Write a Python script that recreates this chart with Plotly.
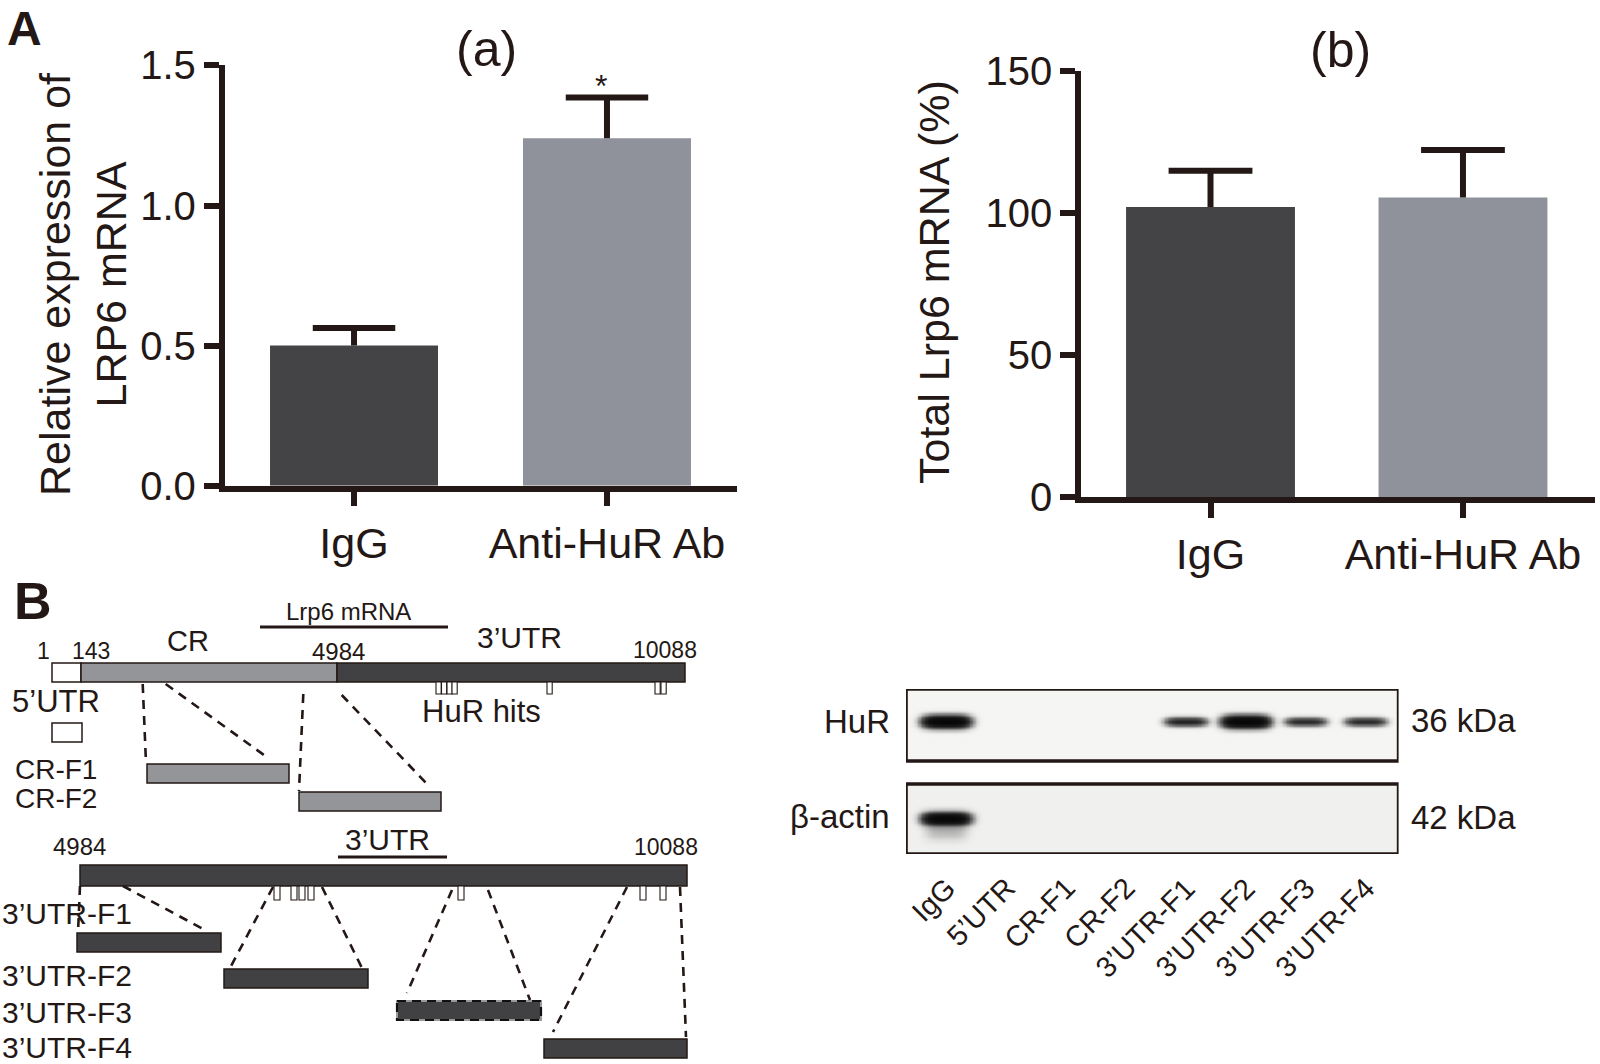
import numpy as np
import plotly.graph_objects as go

W, H = 1600, 1064
INK = '#231815'
FONT = 'Liberation Sans, Arial, Helvetica, sans-serif'

# ---------------- Panel A data ----------------
groups = ['IgG', 'Anti-HuR Ab']
rel_expr = [0.50, 1.24]          # (a) relative expression of LRP6 mRNA
rel_expr_sd = [0.063, 0.145]
total_lrp6 = [102.0, 105.4]      # (b) total Lrp6 mRNA (%)
total_lrp6_sd = [12.8, 16.7]
bar_colors = ['#444446', '#8f929a']
rel_ticks = [0.0, 0.5, 1.0, 1.5]
total_ticks = [0, 50, 100, 150]

# ---------------- Panel B schematic (diagram units) ----------------
site_labels = ['1', '143', '4984', '10088']
full_seg_start = [52, 81, 337]
full_seg_end = [81, 337, 685]
full_seg_fill = ['#ffffff', '#939598', '#414042']
full_hits_start = [436, 441.5, 447, 452, 547, 655, 661]
utr_hits_start = [274, 291, 299, 308, 458, 640, 660]
cr_frag_names = ['5’UTR', 'CR-F1', 'CR-F2']
cr_frag_start = [52, 147, 299]
cr_frag_end = [82, 289, 441]
utr_frag_names = ['3’UTR-F1', '3’UTR-F2', '3’UTR-F3', '3’UTR-F4']
utr_frag_start = [77, 224, 397, 544]
utr_frag_end = [221, 368, 541, 687]

# ---------------- Western blot ----------------
lane_names = ['IgG', '5’UTR', 'CR-F1', 'CR-F2', '3’UTR-F1', '3’UTR-F2', '3’UTR-F3', '3’UTR-F4']
lanes = [1, 2, 3, 4, 5, 6, 7, 8]
hur_signal = [1.0, 0.0, 0.0, 0.0, 0.5, 1.0, 0.45, 0.45]
actin_signal = [1.0, 0.0, 0.0, 0.0, 0.0, 0.0, 0.0, 0.0]


def pxx(p):
    return p / W


def pxy(p):
    return 1 - p / H


fig = go.Figure()


def bar_panel(xa, ya, vals, sds, width, cap_half):
    xs_ = list(range(len(vals)))
    fig.add_trace(go.Bar(x=xs_, y=vals, width=width,
                         marker=dict(color=bar_colors, line=dict(width=0)),
                         xaxis=xa, yaxis=ya, hoverinfo='skip'))
    # SEM whiskers (upper only), built from the data arrays
    ex, ey = [], []
    for xi, v, s in zip(xs_, vals, sds):
        ex += [xi, xi, None, xi - cap_half, xi + cap_half, None]
        ey += [v, v + s, None, v + s, v + s, None]
    fig.add_trace(go.Scatter(x=ex, y=ey, mode='lines', line=dict(color=INK, width=6),
                             xaxis=xa, yaxis=ya, hoverinfo='skip'))


bar_panel('x', 'y', rel_expr, rel_expr_sd, 0.664, 0.163)
bar_panel('x2', 'y2', total_lrp6, total_lrp6_sd, 0.669, 0.166)

# ---- blot heatmaps
LANE_PX = 59.9
xs = np.linspace(0.332, 8.556, 360)
X = xs[None, :]


def band_field(ys, signal, yc, extra=None):
    Y = ys[:, None]
    zsum = np.zeros((len(ys), len(xs)))
    for ln, s in zip(lanes, signal):
        if s <= 0:
            continue
        hw = (17 + 6 * s) / LANE_PX
        sy = 2.4 + 3.2 * s
        zsum += s * np.exp(-(np.abs(X - ln) / hw) ** 4) * np.exp(-((Y - yc) / sy) ** 2)
        if extra is not None:
            zsum += s * extra[0] * np.exp(-(np.abs(X - ln) / (hw * 0.9)) ** 4) * \
                np.exp(-((Y - extra[1]) / extra[2]) ** 2)
    return 1 - np.exp(-4.0 * zsum)


ys_hur = np.linspace(689, 761, 60)
ys_act = np.linspace(784, 854, 60)
blot_scale = [[0, '#f5f5f3'], [0.5, '#7a7a7a'], [1, '#030303']]
fig.add_trace(go.Heatmap(x=xs, y=ys_hur, z=band_field(ys_hur, hur_signal, 721.5),
                         colorscale=blot_scale, zmin=0, zmax=1, showscale=False,
                         zsmooth='best', xaxis='x4', yaxis='y4', hoverinfo='skip'))
fig.add_trace(go.Heatmap(x=xs, y=ys_act, z=band_field(ys_act, actin_signal, 818.5, (0.07, 831, 8)),
                         colorscale=[[0, '#f0f0ef'], [0.5, '#7a7a7a'], [1, '#030303']],
                         zmin=0, zmax=1, showscale=False,
                         zsmooth='best', xaxis='x4', yaxis='y4', hoverinfo='skip'))

shapes = []
annots = []


def rect(x0, x1, y0, y1, fill, lw=1.5, color=INK, dash=None):
    ln = dict(color=color, width=lw)
    if dash:
        ln['dash'] = dash
    shapes.append(dict(type='rect', xref='x3', yref='y3', x0=x0, x1=x1, y0=y0, y1=y1,
                       fillcolor=fill, line=ln, layer='above'))


def seg(x0, y0, x1, y1, lw=2.6, dash='9px,7px'):
    ln = dict(color=INK, width=lw)
    if dash:
        ln['dash'] = dash
    shapes.append(dict(type='line', xref='x3', yref='y3', x0=x0, y0=y0, x1=x1, y1=y1,
                       line=ln, layer='above'))


def txt(t, x, y, size, xanchor='center', ref=('x3', 'y3'), bold=False, angle=0, yanchor='middle'):
    s = f'<b>{t}</b>' if bold else t
    annots.append(dict(text=s, x=x, y=y, xref=ref[0], yref=ref[1], showarrow=False,
                       xanchor=xanchor, yanchor=yanchor, textangle=angle,
                       font=dict(family=FONT, size=size, color=INK)))


# --- upper full-length map
for s0, s1, f in zip(full_seg_start, full_seg_end, full_seg_fill):
    rect(s0, s1, 663, 682, f)
for h in full_hits_start:
    rect(h, h + 5.2, 682, 694, '#ffffff', lw=1.1)
seg(260, 627, 448, 627, lw=3.2, dash=None)
txt('Lrp6 mRNA', 348, 611, 24)
txt(site_labels[0], 43, 651, 23)
txt(site_labels[1], 91, 651, 23)
txt('CR', 187.5, 641, 29)
txt(site_labels[2], 338, 651, 24)
txt('3’UTR', 519, 637, 30)
txt(site_labels[3], 665, 650, 23)
txt('HuR hits', 481, 711, 31)
# CR fragments
for name, s0, s1, y0 in zip(cr_frag_names, cr_frag_start, cr_frag_end, [723, 764, 792]):
    rect(s0, s1, y0, y0 + 19, '#ffffff' if name == '5’UTR' else '#939598')
txt('5’UTR', 56, 701, 31)
txt('CR-F1', 56, 769, 28)
txt('CR-F2', 56, 798, 28)
seg(142.7, 684, 146, 763)
seg(165.7, 684, 266.7, 757)
seg(303.3, 694, 299, 791)
seg(341.7, 695, 430, 787)

# --- lower 3'UTR map
rect(80, 687, 865, 886, '#414042')
for h in utr_hits_start:
    rect(h, h + 6, 886, 900, '#ffffff', lw=1.1)
txt(site_labels[2], 79.5, 846, 24)
txt('3’UTR', 387.5, 839, 30)
seg(338, 857, 447, 857, lw=3.2, dash=None)
txt(site_labels[3], 666, 847, 23)
for name, s0, s1, y0, ly in zip(utr_frag_names, utr_frag_start, utr_frag_end,
                                 [933, 969, 1001, 1039], [913, 975, 1012, 1047]):
    if name.endswith('F3'):
        rect(s0, s1, y0, y0 + 19, '#414042', lw=2.0, color='#9a9a9a')
        rect(s0, s1, y0, y0 + 19, 'rgba(0,0,0,0)', lw=2.2, color='#111111', dash='9px,6px')
    else:
        rect(s0, s1, y0, y0 + 19, '#414042')
    txt(name, 0, ly, 30, xanchor='left')
seg(80, 886, 78, 933)
seg(123, 886, 205, 930)
seg(273, 887, 230, 968)
seg(322, 887, 362, 968)
seg(452, 890, 407, 993)
seg(488, 890, 530, 1000)
seg(627, 887, 553, 1032)
seg(680, 887, 686, 1037)

# --- blot boxes and labels
for y0, y1 in [(689, 761), (784, 854)]:
    shapes.append(dict(type='rect', xref='x4', yref='y4', x0=0.332, x1=8.556, y0=y0, y1=y1,
                       line=dict(color=INK, width=3.6), fillcolor='rgba(0,0,0,0)', layer='above'))
txt('HuR', pxx(892), pxy(721), 33, xanchor='right', ref=('paper', 'paper'))
txt('β-actin', pxx(892), pxy(816), 33, xanchor='right', ref=('paper', 'paper'))
txt('36 kDa', pxx(1409), pxy(720), 33, xanchor='left', ref=('paper', 'paper'))
txt('42 kDa', pxx(1409), pxy(817), 33, xanchor='left', ref=('paper', 'paper'))
for ln, name in zip(lanes, lane_names):
    annots.append(dict(text=name, x=ln + 0.3, y=pxy(869), xref='x4', yref='paper', showarrow=False,
                       xanchor='right', yanchor='top', textangle=-45,
                       font=dict(family=FONT, size=29, color=INK)))

# --- panel A texts
txt('A', pxx(24), pxy(29), 48, ref=('paper', 'paper'), bold=True)
txt('B', pxx(33), pxy(601), 52, ref=('paper', 'paper'), bold=True)
txt('(a)', pxx(486), pxy(49), 50, ref=('paper', 'paper'))
txt('(b)', pxx(1340), pxy(50), 50, ref=('paper', 'paper'))
txt('*', pxx(601), pxy(86), 32, ref=('paper', 'paper'))
txt('Relative expression of<br>LRP6 mRNA', pxx(83), pxy(284), 43, ref=('paper', 'paper'), angle=-90)
txt('Total Lrp6 mRNA (%)', pxx(934), pxy(282), 43, ref=('paper', 'paper'), angle=-90)

axis_common = dict(showline=True, linewidth=5.5, linecolor=INK, ticks='outside', ticklen=15,
                   tickwidth=5.5, tickcolor=INK, showgrid=False, zeroline=False, fixedrange=True,
                   automargin=False)
hidden = dict(visible=False, fixedrange=True, automargin=False, showgrid=False, zeroline=False)

fig.update_layout(
    template='none',
    width=W, height=H, autosize=False,
    margin=dict(l=0, r=0, t=0, b=0, pad=0, autoexpand=False),
    paper_bgcolor='white', plot_bgcolor='rgba(0,0,0,0)', showlegend=False,
    font=dict(family=FONT, color=INK),
    xaxis=dict(domain=[pxx(224.5), pxx(737)], range=[-0.512, 1.514], tickvals=[0, 1], ticktext=groups,
               tickfont=dict(size=43, family=FONT, color=INK), anchor='y', **axis_common),
    yaxis=dict(domain=[pxy(485.7), pxy(65.4)], range=[0, 1.5], tickvals=rel_ticks, tickformat='.1f',
               tickfont=dict(size=40, family=FONT, color=INK), anchor='x', **axis_common),
    xaxis2=dict(domain=[pxx(1081), pxx(1595)], range=[-0.513, 1.523], tickvals=[0, 1], ticktext=groups,
                tickfont=dict(size=43, family=FONT, color=INK), anchor='y2', **axis_common),
    yaxis2=dict(domain=[pxy(497), pxy(70.7)], range=[0, 150], tickvals=total_ticks,
                tickfont=dict(size=40, family=FONT, color=INK), anchor='x2', **axis_common),
    xaxis3=dict(domain=[0, pxx(700)], range=[0, 700], anchor='y3', **hidden),
    yaxis3=dict(domain=[0, pxy(560)], range=[1064, 560], anchor='x3', **hidden),
    xaxis4=dict(domain=[pxx(906), pxx(1398.6)], range=[0.332, 8.556], anchor='y4', **hidden),
    yaxis4=dict(domain=[pxy(854), pxy(689)], range=[854, 689], anchor='x4', **hidden),
    shapes=shapes, annotations=annots,
)

fig.write_html("out.html", config={'displayModeBar': False},
               post_script="document.body.style.margin='0';")
